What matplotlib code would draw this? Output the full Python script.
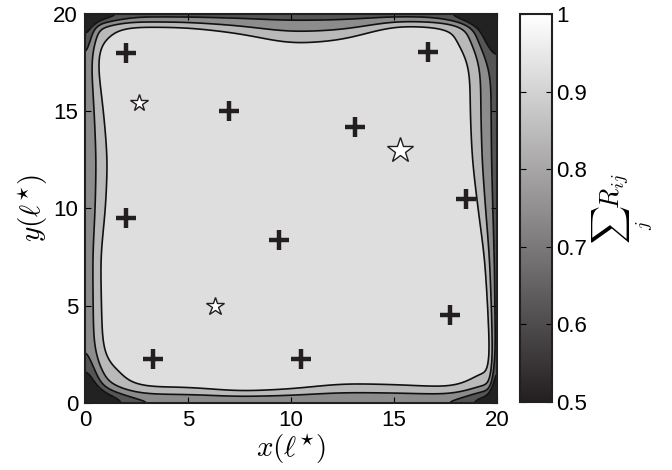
import numpy as np
import matplotlib
matplotlib.use('Agg')
from matplotlib import pyplot as plt
from matplotlib.colors import LinearSegmentedColormap, Normalize
from matplotlib.cm import ScalarMappable

plt.rcParams['font.family'] = ['Liberation Sans', 'DejaVu Sans']
plt.rcParams['mathtext.fontset'] = 'cm'

# base stations (+) and users (stars), in units of l*
plus_x = [2.0, 7.0, 13.1, 16.65, 2.0, 9.4, 18.5, 17.7, 3.3, 10.5]
plus_y = [18.0, 15.0, 14.2, 18.05, 9.5, 8.4, 10.5, 4.5, 2.26, 2.26]
star_x = [2.6, 15.3, 6.3]
star_y = [15.4, 13.0, 5.0]
star_px = [17, 25, 18]          # star widths

# coverage field: interior level, drop at each edge, and where the 0.9 contour
# sits from each edge (every 2.5 l*)
inner_level = 0.96
edge_pos = [0, 2.5, 5, 7.5, 10, 12.5, 15, 17.5, 20]
left_amp, top_amp, right_amp, bottom_amp = 0.22, 0.28, 0.28, 0.24
left_d09 = [0.8, 0.85, 0.8, 0.75, 1.0, 1.1, 0.9, 0.6, 0.6]
top_d09 = [0.65, 0.67, 0.7, 1.0, 1.55, 1.35, 0.6, 0.7, 0.7]
right_d09 = [0.4, 0.35, 0.45, 0.6, 0.92, 1.2, 1.3, 1.3, 1.3]
bottom_d09 = [0.8, 0.82, 0.82, 0.6, 0.72, 1.0, 0.95, 0.82, 0.82]
# extra drop round each corner: bottom-left, top-left, top-right, bottom-right
corner_amp = [0.3, 0.2, 0.3, 0.2]
corner_rad = [1.8, 1.5, 1.8, 1.5]

levels = [0.0, 0.6, 0.7, 0.8, 0.9, 1.1]
band_colors = ['#222222', '#555555', '#8c8c8c', '#b9b9b9', '#dedede']

n = 401
x = np.linspace(0, 20, n)
y = np.linspace(0, 20, n)
X, Y = np.meshgrid(x, y)
dx = x[1] - x[0]


def edge_width(d09, amp):
    w = np.interp(x, edge_pos, d09) / np.sqrt(np.log(amp / (inner_level - 0.9)))
    half = 60
    k = np.exp(-0.5 * (np.arange(-half, half + 1) * dx / 0.8) ** 2)
    k /= k.sum()
    return np.convolve(np.pad(w, half, mode='edge'), k, mode='valid')


wl = edge_width(left_d09, left_amp)[:, None]
wt = edge_width(top_d09, top_amp)[None, :]
wr = edge_width(right_d09, right_amp)[:, None]
wb = edge_width(bottom_d09, bottom_amp)[None, :]

Z = inner_level \
    - left_amp * np.exp(-(X / wl) ** 2) \
    - top_amp * np.exp(-((20 - Y) / wt) ** 2) \
    - right_amp * np.exp(-((20 - X) / wr) ** 2) \
    - bottom_amp * np.exp(-(Y / wb) ** 2)

for (cx, cy), a, r in zip([(0, 0), (0, 20), (20, 20), (20, 0)], corner_amp, corner_rad):
    Z = Z - a * np.exp(-((X - cx) ** 2 + (Y - cy) ** 2) / r ** 2)

fig = plt.figure(figsize=(6.72, 4.70), dpi=100)
ax = fig.add_axes([0.1265, 0.1426, 0.613, 0.8277])

ax.contourf(X, Y, Z, levels=levels, colors=band_colors)
ax.contour(X, Y, Z, levels=levels[1:-1], colors='#111111', linewidths=1.2)

ax.plot(plus_x, plus_y, '+', color='#231f20', ms=14, mew=3.2, ls='none')
for sx, sy, sp in zip(star_x, star_y, star_px):
    ax.plot(sx, sy, '*', ms=sp * 0.76, mfc='white', mec='#231f20', mew=1.0)

ax.set_xlim(0, 20)
ax.set_ylim(0, 20)
ax.set_xticks([0, 5, 10, 15, 20])
ax.set_yticks([0, 5, 10, 15, 20])
ax.tick_params(direction='in', labelsize=16, length=4, pad=5, top=True, right=True)
for sp in ax.spines.values():
    sp.set_linewidth(1.5)
    sp.set_color('#231f20')
ax.set_xlabel(r'$x(\ell^{\star})$', fontsize=21, labelpad=0)
ax.set_ylabel(r'$y(\ell^{\star})$', fontsize=21, labelpad=2)

# colour bar
cmap = LinearSegmentedColormap.from_list('g', ['#231f20', '#ffffff'])
cax = fig.add_axes([0.774, 0.1447, 0.0476, 0.8255])
cb = fig.colorbar(ScalarMappable(norm=Normalize(0.5, 1.0), cmap=cmap), cax=cax)
cb.set_ticks([0.5, 0.6, 0.7, 0.8, 0.9, 1.0])
cb.set_ticklabels(['0.5', '0.6', '0.7', '0.8', '0.9', '1'])
cax.tick_params(direction='in', labelsize=16, length=4, pad=3, left=True, right=True)
cb.outline.set_linewidth(1.5)
cb.outline.set_color('#231f20')
cb.set_label(r'$\sum_j R_{ij}$', fontsize=19, labelpad=2)

fig.savefig('out.png', dpi=100)
